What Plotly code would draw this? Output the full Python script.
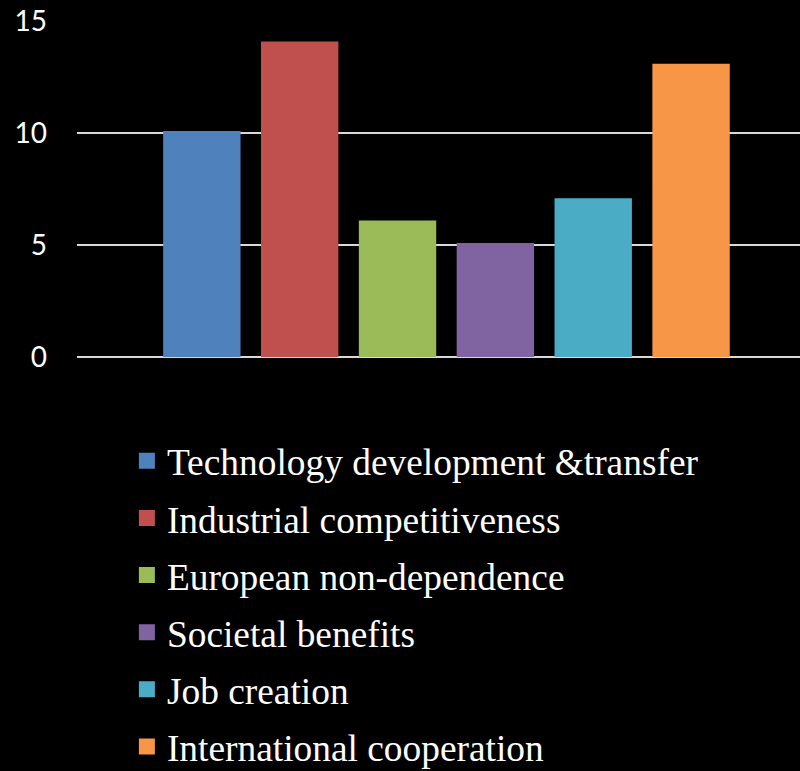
import plotly.graph_objects as go

categories = ["Technology development &transfer", "Industrial competitiveness",
              "European non-dependence", "Societal benefits", "Job creation",
              "International cooperation"]
values = [10, 14, 6, 5, 7, 13]
colors = ["#4f81bd", "#c0504d", "#9bbb59", "#8064a2", "#4bacc6", "#f79646"]
tick_vals = [0, 5, 10, 15]

fig = go.Figure()
for i, (name, v, c) in enumerate(zip(categories, values, colors)):
    fig.add_trace(go.Bar(x=[""], y=[v], name=name,
                         marker=dict(color=c, line=dict(width=4, color=c)),
                         legendgroup=f"g{i}"))

fig.update_layout(
    width=800, height=771,
    paper_bgcolor="black", plot_bgcolor="black",
    margin=dict(l=77, r=0, t=21, b=414),
    barmode="group", bargap=0.188, bargroupgap=0.25,
    showlegend=True,
    legend=dict(x=0.069, y=1 - 430 / 771, yref="container", xanchor="left", yanchor="top",
                font=dict(family="Liberation Serif, Times New Roman, serif", size=37.4, color="white"),
                tracegroupgap=5.5, bgcolor="rgba(0,0,0,0)"),
    xaxis=dict(showticklabels=False, showgrid=False, zeroline=False, showline=False,
               range=[-0.511, 0.489], fixedrange=True),
    yaxis=dict(range=[0, 15], tickvals=tick_vals, showgrid=True, gridcolor="#d9d9d9", gridwidth=1.5,
               zeroline=True, zerolinecolor="#d9d9d9", zerolinewidth=2,
               tickfont=dict(family="Lato, Carlito, Calibri, sans-serif", size=28, color="white"),
               ticks="", ticklabelstandoff=29),
)

fig.write_html("out.html", config={"displayModeBar": False},
               post_script="document.body.style.margin='0';document.body.style.background='black';")
